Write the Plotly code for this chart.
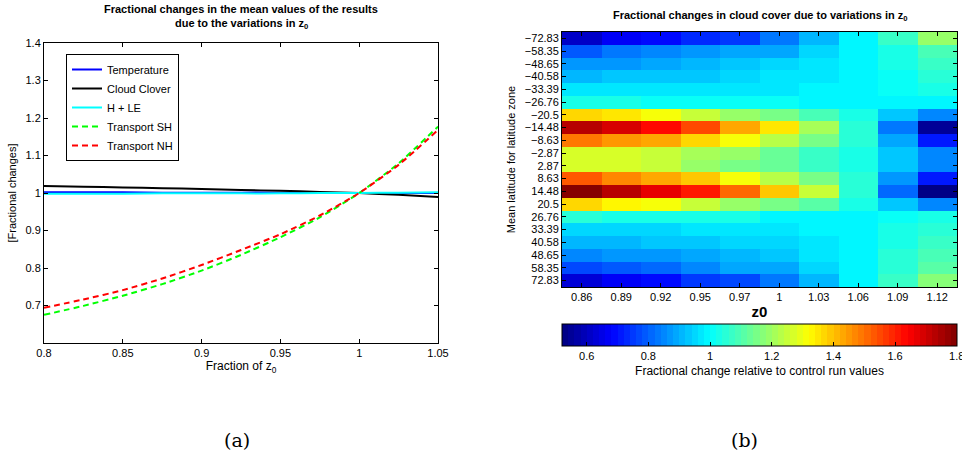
import plotly.graph_objects as go

# ---- Panel (a): mean fractional changes vs fraction of z0 ----
frac_z0 = [0.80, 0.825, 0.85, 0.875, 0.90, 0.925, 0.95, 0.975, 1.00, 1.025, 1.05]
temperature = [1.002, 1.002, 1.002, 1.001, 1.001, 1.001, 1.001, 1.000, 1.000, 1.000, 1.000]
cloud_cover = [1.019, 1.017, 1.015, 1.013, 1.011, 1.008, 1.006, 1.003, 1.000, 0.995, 0.989]
h_plus_le = [0.998, 0.998, 0.998, 0.999, 0.999, 0.999, 0.999, 1.000, 1.000, 1.001, 1.002]
transport_sh = [0.675, 0.699, 0.726, 0.757, 0.793, 0.835, 0.882, 0.935, 1.000, 1.079, 1.177]
transport_nh = [0.694, 0.716, 0.741, 0.772, 0.808, 0.848, 0.890, 0.940, 1.000, 1.075, 1.168]

y_ticks_a = [0.7, 0.8, 0.9, 1.0, 1.1, 1.2, 1.3, 1.4]
x_ticks_a = [0.8, 0.85, 0.9, 0.95, 1.0, 1.05]

# ---- Panel (b): cloud cover change per latitude zone and z0 ----
z0_labels = ["0.86", "0.89", "0.92", "0.95", "0.97", "1", "1.03", "1.06", "1.09", "1.12"]
lat_labels = ["\u221272.83", "\u221258.35", "\u221248.65", "\u221240.58", "\u221233.39",
              "\u221226.76", "\u221220.5", "\u221214.48", "\u22128.63", "\u22122.87",
              "2.87", "8.63", "14.48", "20.5", "26.76", "33.39", "40.58", "48.65",
              "58.35", "72.83"]
cloud_change = [
    [0.62, 0.68, 0.70, 0.73, 0.76, 0.84, 0.92, 1.00, 1.08, 1.19],
    [0.80, 0.84, 0.86, 0.87, 0.89, 0.90, 0.95, 1.00, 1.04, 1.10],
    [0.87, 0.87, 0.90, 0.92, 0.94, 0.95, 0.97, 1.00, 1.04, 1.08],
    [0.92, 0.93, 0.93, 0.93, 0.95, 0.97, 0.97, 1.00, 1.02, 1.05],
    [0.98, 0.98, 0.98, 0.98, 0.98, 0.98, 1.00, 1.00, 1.01, 1.03],
    [1.04, 1.04, 1.02, 1.02, 1.02, 1.02, 1.00, 1.00, 1.00, 0.99],
    [1.37, 1.35, 1.31, 1.26, 1.19, 1.16, 1.10, 1.03, 0.94, 0.86],
    [1.74, 1.69, 1.63, 1.55, 1.44, 1.35, 1.21, 1.05, 0.84, 0.56],
    [1.50, 1.46, 1.43, 1.37, 1.31, 1.24, 1.16, 1.05, 0.89, 0.71],
    [1.28, 1.27, 1.26, 1.21, 1.19, 1.14, 1.08, 1.03, 0.94, 0.86],
    [1.28, 1.27, 1.25, 1.19, 1.16, 1.13, 1.08, 1.03, 0.94, 0.86],
    [1.53, 1.48, 1.44, 1.39, 1.32, 1.24, 1.16, 1.05, 0.87, 0.71],
    [1.80, 1.74, 1.68, 1.61, 1.51, 1.39, 1.26, 1.06, 0.82, 0.52],
    [1.37, 1.34, 1.31, 1.26, 1.20, 1.16, 1.11, 1.03, 0.94, 0.86],
    [1.05, 1.03, 1.03, 1.03, 1.03, 1.00, 1.00, 1.00, 1.02, 1.04],
    [0.96, 0.96, 0.96, 0.98, 0.98, 0.98, 1.00, 1.00, 1.03, 1.05],
    [0.92, 0.92, 0.94, 0.94, 0.95, 0.95, 0.98, 1.00, 1.04, 1.07],
    [0.86, 0.87, 0.87, 0.90, 0.92, 0.94, 0.98, 1.00, 1.05, 1.10],
    [0.78, 0.80, 0.82, 0.86, 0.89, 0.90, 0.95, 1.00, 1.05, 1.11],
    [0.63, 0.68, 0.70, 0.75, 0.78, 0.84, 0.92, 1.00, 1.08, 1.18],
]
cbar_ticks = [0.6, 0.8, 1.0, 1.2, 1.4, 1.6, 1.8]
z_min, z_max = 0.52, 1.801

# MATLAB-style jet colormap, quantised into 64 levels
def jet_rgb(t):
    def ch(a):
        return max(0.0, min(1.0, 1.5 - abs(4 * t - a)))
    r, g, b = ch(3), ch(2), ch(1)
    return f"rgb({round(r*255)},{round(g*255)},{round(b*255)})"

n_levels = 64
jet_scale = []
for k in range(n_levels):
    c = jet_rgb((k + 0.5) / n_levels)
    jet_scale.append([k / n_levels, c])
    jet_scale.append([(k + 1) / n_levels, c])

W, H = 962, 462
FONT = "Liberation Sans"

fig = go.Figure()

series = [
    ("Temperature", temperature, "rgb(0,0,255)", "solid"),
    ("Cloud Clover", cloud_cover, "rgb(0,0,0)", "solid"),
    ("H + LE", h_plus_le, "rgb(0,255,255)", "solid"),
    ("Transport SH", transport_sh, "rgb(0,255,0)", "6px,4px"),
    ("Transport NH", transport_nh, "rgb(255,0,0)", "6px,4px"),
]
for name, vals, col, dash in series:
    fig.add_trace(go.Scatter(
        x=frac_z0, y=vals, mode="lines", name=name,
        line=dict(color=col, width=2, dash=dash, shape="spline", smoothing=0.6),
        xaxis="x", yaxis="y",
    ))

fig.add_trace(go.Heatmap(
    x=z0_labels, y=lat_labels, z=cloud_change,
    colorscale=jet_scale, zmin=z_min, zmax=z_max,
    xaxis="x2", yaxis="y2", showscale=True,
    colorbar=dict(
        orientation="h", x=(562 + 957) / 2 / W, xanchor="center",
        y=1 - 324 / H, yanchor="top",
        lenmode="pixels", len=395, thicknessmode="pixels", thickness=22,
        xpad=0, ypad=0, outlinewidth=1, outlinecolor="black",
        tickvals=cbar_ticks, ticktext=[f"{v:g}" for v in cbar_ticks],
        ticks="inside", ticklen=4, tickcolor="black",
        ticklabeloverflow="allow",
        tickfont=dict(family=FONT, size=11, color="black"),
        title=dict(text="Fractional change relative to control run values",
                   side="bottom", font=dict(family=FONT, size=12, color="black")),
    ),
))

axis_common = dict(showline=True, linecolor="black", linewidth=1, mirror="ticks",
                   ticks="inside", ticklen=4, tickcolor="black", showgrid=False,
                   zeroline=False, tickfont=dict(family=FONT, size=11, color="black"))

title_font = dict(family=FONT, size=11, color="black")
serif_font = dict(family="DejaVu Serif, Liberation Serif, serif", size=19, color="black")

fig.update_layout(
    width=W, height=H, margin=dict(l=0, r=0, t=0, b=0, autoexpand=False),
    paper_bgcolor="white", plot_bgcolor="white",
    showlegend=True,
    legend=dict(x=66 / W, y=1 - 54 / H, xanchor="left", yanchor="top",
                bgcolor="white", bordercolor="black", borderwidth=1,
                font=dict(family=FONT, size=11, color="black"),
                tracegroupgap=0, itemwidth=30),
    xaxis=dict(domain=[44 / W, 438 / W], range=[0.8, 1.05],
               tickvals=x_ticks_a, ticktext=[f"{v:g}" for v in x_ticks_a],
               anchor="y",
               title=dict(text="Fraction of z<sub>0</sub>", standoff=1,
                          font=dict(family=FONT, size=12, color="black")),
               **axis_common),
    yaxis=dict(domain=[1 - 343 / H, 1 - 43 / H], range=[0.6, 1.4],
               tickvals=y_ticks_a, ticktext=[f"{v:g}" for v in y_ticks_a],
               anchor="x",
               title=dict(text="[Fractional changes]", standoff=6,
                          font=dict(family=FONT, size=11, color="black")),
               **axis_common),
    xaxis2=dict(domain=[562 / W, 957 / W], anchor="y2", type="category",
                tickmode="array", tickvals=z0_labels, ticktext=z0_labels,
                title=dict(text="<b>z0</b>", standoff=4,
                           font=dict(family=FONT, size=15, color="black")),
                **axis_common),
    yaxis2=dict(domain=[1 - 287 / H, 1 - 32 / H], anchor="x2", type="category",
                autorange="reversed",
                tickmode="array", tickvals=lat_labels, ticktext=lat_labels,
                title=dict(text="Mean latitude for latitude zone", standoff=6,
                           font=dict(family=FONT, size=11, color="black")),
                **axis_common),
    annotations=[
        dict(text="<b>Fractional changes in the mean values of the results</b>",
             x=241 / W, y=1 - 9 / H, xref="paper", yref="paper",
             xanchor="center", yanchor="middle", showarrow=False, font=title_font),
        dict(text="<b>due to the variations in z<sub>0</sub></b>",
             x=241 / W, y=1 - 24 / H, xref="paper", yref="paper",
             xanchor="center", yanchor="middle", showarrow=False, font=title_font),
        dict(text="<b>Fractional changes in cloud cover due to variations in z<sub>0</sub></b>",
             x=760 / W, y=1 - 7 / H, xref="paper", yref="paper",
             xanchor="center", yanchor="top", showarrow=False, font=title_font),
        dict(text="(a)", x=237 / W, y=1 - 440 / H, xref="paper", yref="paper",
             xanchor="center", yanchor="middle", showarrow=False, font=serif_font),
        dict(text="(b)", x=744 / W, y=1 - 440 / H, xref="paper", yref="paper",
             xanchor="center", yanchor="middle", showarrow=False, font=serif_font),
    ],
)

fig.write_html("out.html")
